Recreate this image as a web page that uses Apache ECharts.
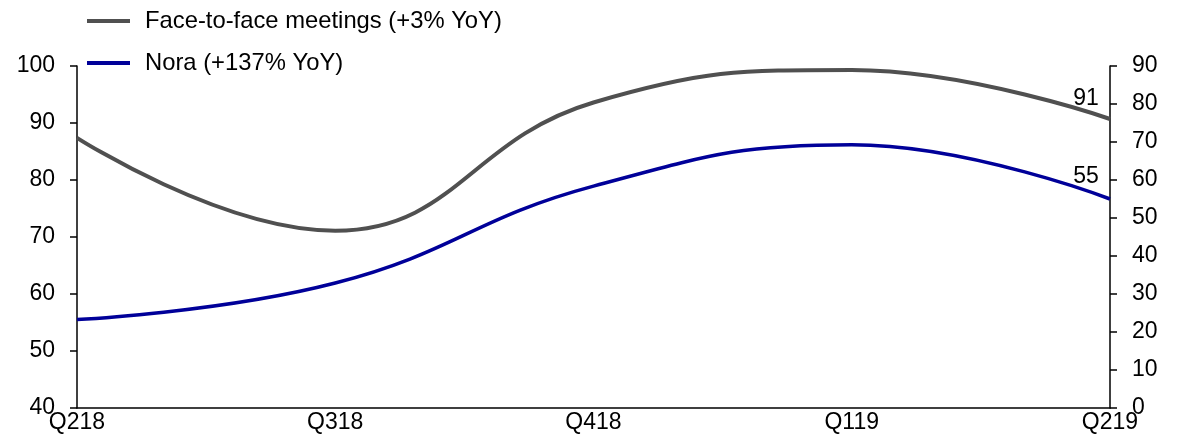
<!DOCTYPE html>
<html>
<head>
<meta charset="utf-8">
<script src="https://cdn.jsdelivr.net/npm/echarts@6/dist/echarts.min.js"></script>
<style>
  html, body { margin: 0; padding: 0; background: #ffffff; }
  #chart { width: 1184px; height: 443px; }
</style>
</head>
<body>
<div id="chart"></div>
<script>
// Quarterly categories
const quarters = ['Q218', 'Q318', 'Q418', 'Q119', 'Q219'];

// Face-to-face meetings (left axis)
const faceToFace = [87.4, 71.1, 93.6, 99.3, 90.7];

// Nora (right axis)
const nora = [23.3, 32.9, 58.4, 69.3, 55.0];

// Series names as shown in the legend
const faceName = 'Face-to-face meetings (+3% YoY)';
const noraName = 'Nora (+137% YoY)';

const FONT = 'Liberation Sans, Arial, sans-serif';
const GREY = '#505050';
const BLUE = '#000099';

// Value label drawn just above-left of the final point
function endLabel(dy) {
  return {
    show: true,
    distance: 0,
    align: 'center',
    verticalAlign: 'middle',
    offset: [-24, dy],
    fontFamily: FONT,
    fontSize: 23,
    color: '#000',
    formatter: p => String(Math.round(p.value))
  };
}

const chart = echarts.init(document.getElementById('chart'));

chart.setOption({
  animation: false,
  textStyle: { fontFamily: FONT },
  grid: { left: 77, right: 74, top: 66, bottom: 35 },
  legend: {
    orient: 'vertical',
    left: 87,
    top: 9,
    padding: 0,
    itemWidth: 43,
    itemHeight: 4,
    itemGap: 18,
    icon: 'rect',
    textStyle: { fontFamily: FONT, fontSize: 23.8, color: '#000', padding: [0, 0, 0, 10] },
    data: [faceName, noraName]
  },
  xAxis: {
    type: 'category',
    data: quarters,
    boundaryGap: false,
    axisLine: { lineStyle: { color: '#000', width: 1.5 } },
    axisTick: { show: false },
    axisLabel: { fontFamily: FONT, fontSize: 23, color: '#000', margin: 3 }
  },
  yAxis: [
    {
      type: 'value',
      min: 40,
      max: 100,
      interval: 10,
      position: 'left',
      splitLine: { show: false },
      axisLine: { show: true, lineStyle: { color: '#000', width: 1.5 } },
      axisTick: { show: true, length: 7, lineStyle: { color: '#000', width: 1.5 } },
      axisLabel: { fontFamily: FONT, fontSize: 23, color: '#000', margin: 22 }
    },
    {
      type: 'value',
      min: 0,
      max: 90,
      interval: 10,
      position: 'right',
      splitLine: { show: false },
      axisLine: { show: true, lineStyle: { color: '#000', width: 1.5 } },
      axisTick: { show: true, length: 7, lineStyle: { color: '#000', width: 1.5 } },
      axisLabel: { fontFamily: FONT, fontSize: 23, color: '#000', margin: 22 }
    }
  ],
  series: [
    {
      name: faceName,
      type: 'line',
      yAxisIndex: 0,
      data: faceToFace,
      smooth: 0.45,
      symbol: 'none',
      lineStyle: { color: GREY, width: 4 },
      itemStyle: { color: GREY },
      endLabel: endLabel(-20)
    },
    {
      name: noraName,
      type: 'line',
      yAxisIndex: 1,
      data: nora,
      smooth: 0.45,
      symbol: 'none',
      lineStyle: { color: BLUE, width: 3.5 },
      itemStyle: { color: BLUE },
      endLabel: endLabel(-22)
    }
  ]
});
</script>
</body>
</html>
